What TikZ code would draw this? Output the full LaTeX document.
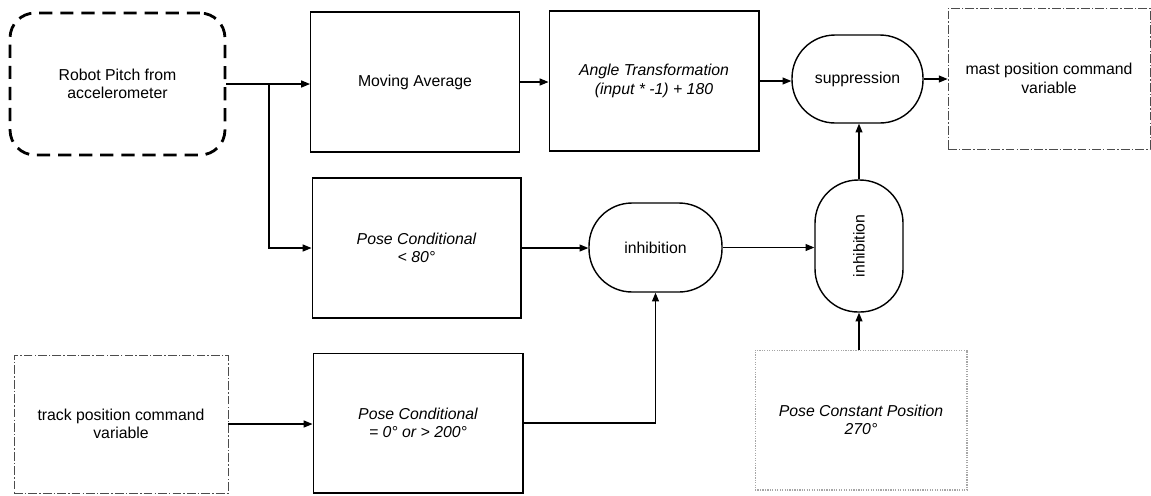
\documentclass[tikz,border=0pt]{standalone}
\usepackage{fontspec}
\setmainfont{Liberation Sans}
\usetikzlibrary{arrows.meta,positioning}

\begin{document}
\begin{tikzpicture}[x=0.02cm, y=-0.02cm, >={Triangle[length=5pt,width=4pt]},
		every node/.style={font=\fontsize{9}{10.5}\selectfont, align=center},
		block/.style={rectangle, draw, line width=0.6pt, inner sep=0pt, minimum width=4.18cm, minimum height=2.8cm},
		stadium/.style={rectangle, draw, line width=0.8pt, inner sep=0pt, rounded corners=0.86cm},
		flow/.style={->, line width=0.6pt}]
		\useasboundingbox (0,0) rectangle (1151,495);

		% sensor inputs
		\draw (117.5,84) node (pitch) [rectangle, draw, line width=1.6pt, dash pattern=on 7.5pt off 4.5pt, rounded corners=0.5cm, minimum width=4.3cm, minimum height=2.84cm] {Robot Pitch from\\accelerometer};
		\draw (121,424) node (track) [rectangle, draw, gray!60!black, text=black, line width=0.5pt, dash pattern=on 5pt off 1.2pt on 0.8pt off 1.2pt, minimum width=4.28cm, minimum height=2.76cm] {track position command\\variable};
		\draw (861,420) node (const) [rectangle, draw, gray!70, text=black, line width=0.6pt, dash pattern=on 0.7pt off 0.7pt, minimum width=4.24cm, minimum height=2.8cm] {\itshape Pose Constant Position\\\itshape 270°};

		% processing blocks
		\draw (415,82) node (avg) [block] {Moving Average};
		\draw (654,81) node (angle) [block, minimum width=4.2cm] {\itshape Angle Transformation\\\itshape (input * -1) + 180};
		\draw (416.5,248) node (cond1) [block] {\itshape Pose Conditional\\\itshape < 80°};
		\draw (418,423) node (cond2) [block, minimum width=4.2cm] {\itshape Pose Conditional\\\itshape = 0° or > 200°};

		% arbitration
		\draw (655.5,247.5) node (inh1) [stadium, minimum width=2.66cm, minimum height=1.78cm] {inhibition};
		\draw (859,246) node (inh2) [stadium, minimum width=1.76cm, minimum height=2.64cm] {\rotatebox{90}{inhibition}};
		\draw (857.5,79) node (supp) [stadium, minimum width=2.62cm, minimum height=1.76cm] {suppression};

		% output
		\draw (1049,78.5) node (mast) [rectangle, draw, gray!60!black, text=black, line width=0.5pt, dash pattern=on 5pt off 1.2pt on 0.8pt off 1.2pt, minimum width=4.04cm, minimum height=2.82cm] {mast position command\\variable};

		\coordinate (split) at (269,84);

		\draw[flow] (pitch.east) -- (pitch.east -| avg.west);
		\draw[flow] (split) |- (cond1.west);
		\draw[flow] (avg.east) -- (avg.east -| angle.west);
		\draw[flow] (angle.east) -- (angle.east -| supp.west);
		\draw[flow] (supp.east) -- (supp.east -| mast.west);

		\draw[flow] (cond1.east) -- (cond1.east -| inh1.west);
		\draw[flow] (inh1.east) -- (inh1.east -| inh2.west);
		\draw[flow] (inh2.north) -- (inh2.north |- supp.south);

		\draw[flow] (track.east) -- (track.east -| cond2.west);
		\draw[flow] (cond2.east) -| (inh1.south);
		\draw[flow] (inh2.south |- const.north) -- (inh2.south);
	\end{tikzpicture}
\end{document}
